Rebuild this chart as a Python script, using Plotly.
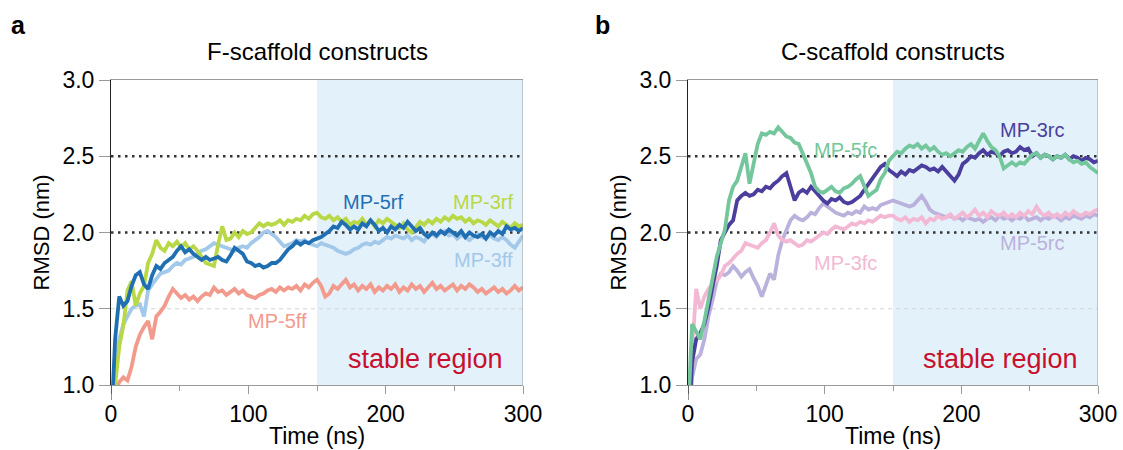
import plotly.graph_objects as go

# ---------------- data ----------------
TIME = list(range(0, 301, 3))  # ns

# Panel a: F-scaffold constructs
MP_5ff = [0.60, 0.95, 1.02, 1.05, 1.03, 1.12, 1.25, 1.33, 1.38, 1.42,
          1.30, 1.45, 1.48, 1.52, 1.58, 1.63, 1.60, 1.57, 1.59, 1.56,
          1.58, 1.55, 1.58, 1.60, 1.59, 1.64, 1.61, 1.62, 1.59, 1.61,
          1.63, 1.60, 1.62, 1.59, 1.58, 1.57, 1.59, 1.60, 1.62, 1.63,
          1.61, 1.64, 1.62, 1.64, 1.63, 1.65, 1.62, 1.66, 1.64, 1.67,
          1.69, 1.65, 1.58, 1.60, 1.65, 1.63, 1.66, 1.69, 1.64, 1.66,
          1.62, 1.65, 1.63, 1.66, 1.61, 1.64, 1.62, 1.65, 1.63, 1.66,
          1.61, 1.64, 1.62, 1.66, 1.63, 1.65, 1.61, 1.64, 1.67, 1.63,
          1.65, 1.62, 1.64, 1.66, 1.62, 1.65, 1.63, 1.66, 1.64, 1.61,
          1.63, 1.60, 1.62, 1.64, 1.61, 1.63, 1.60, 1.62, 1.65, 1.62,
          1.64]
MP_3rf = [0.55, 1.00, 1.25, 1.39, 1.62, 1.68, 1.52, 1.60, 1.65, 1.80,
          1.86, 1.95, 1.90, 1.88, 1.93, 1.91, 1.94, 1.90, 1.93, 1.89,
          1.91, 1.88, 1.84, 1.80, 1.79, 1.78, 1.92, 2.04, 1.95, 1.96,
          2.00, 1.97, 2.01, 1.99, 2.00, 2.03, 2.06, 2.04, 2.06, 2.05,
          2.06, 2.08, 2.05, 2.08, 2.07, 2.09, 2.08, 2.11, 2.09, 2.12,
          2.13, 2.10, 2.09, 2.11, 2.08, 2.10, 2.07, 2.09, 2.05, 2.07,
          2.06, 2.09, 2.05, 2.08, 2.04, 2.08, 2.06, 2.09, 2.07, 2.05,
          2.03, 2.06, 2.02, 2.00, 2.04, 2.07, 2.05, 2.08, 2.06, 2.09,
          2.07, 2.10, 2.08, 2.11, 2.09, 2.10, 2.07, 2.09, 2.06, 2.08,
          2.07, 2.05, 2.08, 2.06, 2.04, 2.07, 2.05, 2.03, 2.06, 2.04,
          2.05]
MP_5rf = [0.70, 1.30, 1.58, 1.52, 1.55, 1.65, 1.72, 1.74, 1.66, 1.63,
          1.72, 1.78, 1.76, 1.80, 1.82, 1.84, 1.88, 1.91, 1.87, 1.89,
          1.86, 1.84, 1.82, 1.84, 1.82, 1.83, 1.84, 1.82, 1.81, 1.85,
          1.90, 1.88, 1.86, 1.81, 1.80, 1.78, 1.79, 1.77, 1.78, 1.80,
          1.80, 1.82, 1.86, 1.89, 1.91, 1.94, 1.92, 1.94, 1.93, 1.95,
          1.96, 1.97, 1.99, 2.01, 2.04, 2.03, 2.07, 2.05, 2.02, 2.04,
          2.02, 2.06, 2.04, 2.08, 2.05, 2.01, 2.03, 2.00, 2.04, 2.02,
          2.05, 2.03, 2.07, 2.04, 2.01, 2.03, 1.99, 1.97, 2.00, 1.98,
          2.01, 1.99, 2.02, 2.00, 1.98, 2.01, 1.97, 2.00, 1.98, 1.97,
          1.99, 1.96, 2.00, 1.98, 2.01, 1.99, 2.04, 2.02, 2.03, 2.01,
          2.03]
MP_3ff = [0.60, 1.10, 1.30, 1.40, 1.45, 1.50, 1.52, 1.53, 1.45, 1.62,
          1.66, 1.70, 1.73, 1.74, 1.75, 1.78, 1.80, 1.79, 1.82, 1.83,
          1.84, 1.86, 1.88, 1.89, 1.91, 1.93, 1.92, 1.91, 1.90, 1.89,
          1.88, 1.90, 1.91, 1.90, 1.93, 1.95, 1.97, 2.00, 2.01, 1.99,
          1.97, 1.94, 1.91, 1.92, 1.93, 1.95, 1.94, 1.95, 1.93, 1.92,
          1.91, 1.93, 1.92, 1.91, 1.90, 1.88, 1.87, 1.86, 1.87, 1.89,
          1.90, 1.92, 1.93, 1.92, 1.94, 1.93, 1.95, 1.97, 1.96, 1.98,
          1.97, 1.96, 1.98, 1.95, 1.97, 1.96, 1.94, 1.98, 1.99, 1.97,
          2.00, 2.01, 1.98, 1.99, 1.96, 1.98, 1.97, 1.95, 1.97, 1.99,
          1.97, 1.96, 1.98, 1.96, 1.95, 1.97, 1.95, 1.92, 1.90, 1.94,
          1.98]

# Panel b: C-scaffold constructs
MP_5fc = [0.80, 1.40, 1.35, 1.30, 1.42, 1.56, 1.72, 1.84, 1.93, 2.02,
          2.21, 2.30, 2.34, 2.43, 2.52, 2.32, 2.45, 2.58, 2.65, 2.64,
          2.66, 2.65, 2.69, 2.66, 2.63, 2.62, 2.59, 2.58, 2.52, 2.45,
          2.39, 2.30, 2.27, 2.26, 2.28, 2.30, 2.27, 2.26, 2.29, 2.30,
          2.32, 2.35, 2.37, 2.30, 2.24, 2.26, 2.28, 2.35, 2.39, 2.47,
          2.50, 2.53, 2.52, 2.55, 2.57, 2.56, 2.58, 2.55, 2.57, 2.54,
          2.56, 2.53, 2.51, 2.52, 2.50, 2.52, 2.54, 2.53, 2.56, 2.58,
          2.55, 2.60, 2.65, 2.60, 2.56, 2.54, 2.50, 2.42, 2.44, 2.46,
          2.44, 2.46, 2.45, 2.48, 2.51, 2.52, 2.49, 2.51, 2.50, 2.48,
          2.50, 2.49, 2.51, 2.48, 2.46, 2.47, 2.45, 2.46, 2.43, 2.41,
          2.39]
MP_3rc = [0.60, 1.15, 1.30, 1.34, 1.40, 1.51, 1.65, 1.78, 1.95, 2.00,
          2.05, 2.08, 2.21, 2.24, 2.26, 2.24, 2.25, 2.28, 2.27, 2.30,
          2.29, 2.32, 2.34, 2.37, 2.39, 2.30, 2.21, 2.26, 2.28, 2.26,
          2.30, 2.27, 2.24, 2.21, 2.19, 2.22, 2.21, 2.23, 2.20, 2.19,
          2.20, 2.22, 2.24, 2.28, 2.32, 2.35, 2.39, 2.43, 2.45, 2.41,
          2.39, 2.37, 2.40, 2.38, 2.41, 2.40, 2.42, 2.44, 2.43, 2.41,
          2.42, 2.40, 2.43, 2.40, 2.37, 2.34, 2.38, 2.45, 2.47, 2.50,
          2.49, 2.52, 2.54, 2.51, 2.53, 2.52, 2.50, 2.53, 2.54, 2.52,
          2.53, 2.56, 2.54, 2.55, 2.50, 2.52, 2.49, 2.51, 2.50, 2.48,
          2.50, 2.49, 2.51, 2.48, 2.50, 2.49, 2.47, 2.49, 2.48, 2.46,
          2.47]
MP_3fc = [0.80, 1.25, 1.63, 1.50, 1.58, 1.63, 1.66, 1.69, 1.72, 1.78,
          1.80, 1.83, 1.86, 1.88, 1.93, 1.92, 1.91, 1.90, 1.93, 1.95,
          2.00, 2.06, 1.98, 1.95, 1.94, 1.95, 1.93, 1.91, 1.92, 1.95,
          1.94, 1.96, 1.98, 2.00, 1.99, 2.02, 2.04, 2.03, 2.02, 2.04,
          2.06, 2.05, 2.07, 2.06, 2.08, 2.07, 2.09, 2.11, 2.10, 2.11,
          2.11, 2.09, 2.08, 2.10, 2.07, 2.09, 2.08, 2.10, 2.06, 2.09,
          2.08, 2.11, 2.09, 2.10, 2.12, 2.09, 2.11, 2.13, 2.10, 2.12,
          2.15, 2.11, 2.13, 2.10, 2.14, 2.12, 2.11, 2.13, 2.10, 2.12,
          2.10, 2.13, 2.11, 2.14, 2.12, 2.17, 2.13, 2.11, 2.13, 2.10,
          2.12, 2.10, 2.13, 2.11, 2.14, 2.12, 2.11, 2.13, 2.12, 2.14,
          2.15]
MP_5rc = [0.60, 1.05, 1.17, 1.20, 1.30, 1.45, 1.56, 1.68, 1.73, 1.72,
          1.74, 1.78, 1.75, 1.71, 1.74, 1.76, 1.70, 1.65, 1.58, 1.66,
          1.73, 1.69, 1.85, 1.95, 2.02, 2.08, 2.11, 2.09, 2.08, 2.10,
          2.13, 2.12, 2.16, 2.19, 2.17, 2.15, 2.13, 2.12, 2.11, 2.13,
          2.12, 2.14, 2.13, 2.17, 2.15, 2.16, 2.15, 2.18, 2.19, 2.20,
          2.21, 2.20, 2.19, 2.18, 2.17, 2.18, 2.21, 2.24, 2.20, 2.15,
          2.13, 2.12, 2.11, 2.10, 2.11, 2.09, 2.10, 2.08, 2.10, 2.09,
          2.08, 2.09, 2.07, 2.09, 2.10, 2.08, 2.11, 2.09, 2.10, 2.08,
          2.10, 2.09, 2.11, 2.08, 2.09, 2.10, 2.08, 2.10, 2.09, 2.11,
          2.10, 2.08, 2.10, 2.09, 2.11, 2.10, 2.09, 2.11, 2.10, 2.12,
          2.11]

PANEL_A = [("MP-5ff", MP_5ff, "#f29a8c"), ("MP-3ff", MP_3ff, "#a2c8ea"),
           ("MP-3rf", MP_3rf, "#b9d845"), ("MP-5rf", MP_5rf, "#1f6fb2")]
PANEL_B = [("MP-5rc", MP_5rc, "#bab2dc"), ("MP-3fc", MP_3fc, "#f3b8d3"),
           ("MP-3rc", MP_3rc, "#4b3f9d"), ("MP-5fc", MP_5fc, "#74c79c")]

LABELS_A = [("MP-5rf", 191, 2.20, "#1f6fb2"), ("MP-3rf", 271, 2.20, "#b9d845"),
            ("MP-3ff", 271, 1.82, "#a2c8ea"), ("MP-5ff", 121, 1.42, "#f29a8c")]
LABELS_B = [("MP-5fc", 115, 2.54, "#74c79c"), ("MP-3rc", 252, 2.67, "#4b3f9d"),
            ("MP-5rc", 252, 1.93, "#bab2dc"), ("MP-3fc", 115, 1.80, "#f3b8d3")]

FONT = "Liberation Sans, Arial, Helvetica, sans-serif"
W, H = 1123, 450
Y_TOP, Y_BOT = 80, 385
DOM_A = (111 / W, 523 / W)
DOM_B = (688 / W, 1098 / W)
YDOM = (1 - Y_BOT / H, 1 - Y_TOP / H)

fig = go.Figure()

for name, vals, col in PANEL_A:
    fig.add_trace(go.Scatter(x=TIME, y=vals, mode="lines", name=name,
                             line=dict(color=col, width=3.8), xaxis="x", yaxis="y",
                             showlegend=False))
for name, vals, col in PANEL_B:
    fig.add_trace(go.Scatter(x=TIME, y=vals, mode="lines", name=name,
                             line=dict(color=col, width=3.8), xaxis="x2", yaxis="y2",
                             showlegend=False))

def xaxis_cfg(dom, anchor):
    return dict(domain=list(dom), anchor=anchor, range=[0, 300], automargin=False,
                tickvals=[0, 100, 200, 300], ticks="outside", ticklen=8,
                tickcolor="#9a9a9a", tickwidth=1,
                minor=dict(tickvals=[50, 150, 250], ticks="outside", ticklen=5,
                           tickcolor="#9a9a9a", tickwidth=1),
                showline=True, linecolor="#9a9a9a", linewidth=1, mirror=True,
                showgrid=False, zeroline=False,
                tickfont=dict(family=FONT, size=23, color="black"))

def yaxis_cfg(anchor):
    return dict(domain=list(YDOM), anchor=anchor, range=[1.0, 3.0], automargin=False,
                tickvals=[1.0, 1.5, 2.0, 2.5, 3.0], tickformat=".1f",
                ticks="outside", ticklen=11, tickcolor="#9a9a9a", tickwidth=1,
                showline=True, linecolor="#222222", linewidth=1,
                showgrid=False, zeroline=False,
                tickfont=dict(family=FONT, size=23, color="black"))

shapes = []
annotations = []
for xr, yr, dom, title, letter, letter_x, labels in [
        ("x", "y", DOM_A, "F-scaffold constructs", "a", 18, LABELS_A),
        ("x2", "y2", DOM_B, "C-scaffold constructs", "b", 602, LABELS_B)]:
    shapes.append(dict(type="rect", xref=xr, yref=yr, x0=150, x1=300, y0=1.0, y1=3.0,
                       fillcolor="#e3f1fa", line=dict(width=0), layer="below"))
    for lv in [2.0, 2.5]:
        shapes.append(dict(type="line", xref=xr, yref=yr, x0=0, x1=300, y0=lv, y1=lv,
                           line=dict(color="#333333", width=2.5, dash="2.5px,4.5px"),
                           layer="below"))
    shapes.append(dict(type="line", xref=xr, yref=yr, x0=0, x1=300, y0=1.5, y1=1.5,
                       line=dict(color="#d4d4d4", width=1, dash="4px,4px"), layer="below"))
    # right frame edge (gray)
    shapes.append(dict(type="line", xref=xr, yref=yr, x0=300, x1=300, y0=1.0, y1=3.0,
                       line=dict(color="#9a9a9a", width=1)))
    # left spine extending below the x axis
    shapes.append(dict(type="line", xref=xr, yref="paper", x0=0, x1=0,
                       y0=YDOM[0] - 15 / H, y1=YDOM[0],
                       line=dict(color="#222222", width=1)))
    cx = (dom[0] + dom[1]) / 2
    annotations.append(dict(text=title, xref="paper", yref="paper", x=cx, y=1 - 52 / H,
                            xanchor="center", yanchor="middle", showarrow=False,
                            font=dict(family=FONT, size=24, color="black")))
    annotations.append(dict(text="<b>" + letter + "</b>", xref="paper", yref="paper",
                            x=letter_x / W, y=1 - 25 / H, xanchor="center", yanchor="middle",
                            showarrow=False, font=dict(family=FONT, size=25, color="black")))
    annotations.append(dict(text="Time (ns)", xref="paper", yref="paper", x=cx,
                            y=1 - 436 / H, xanchor="center", yanchor="middle",
                            showarrow=False, font=dict(family=FONT, size=23, color="black")))
    annotations.append(dict(text="RMSD (nm)", xref="paper", yref="paper",
                            x=dom[0] - 70 / W, y=(YDOM[0] + YDOM[1]) / 2, textangle=-90,
                            xanchor="center", yanchor="middle",
                            showarrow=False, font=dict(family=FONT, size=22, color="black")))
    annotations.append(dict(text="stable region", xref=xr, yref=yr, x=229, y=1.17,
                            xanchor="center", yanchor="middle",
                            showarrow=False, font=dict(family=FONT, size=27, color="#c8102e")))
    for txt, lx, ly, col in labels:
        annotations.append(dict(text=txt, xref=xr, yref=yr, x=lx, y=ly, showarrow=False,
                                xanchor="center", yanchor="middle",
                                font=dict(family=FONT, size=20, color=col)))

fig.update_layout(
    width=W, height=H,
    margin=dict(l=0, r=0, t=0, b=0, pad=0, autoexpand=False),
    paper_bgcolor="white", plot_bgcolor="white",
    xaxis=xaxis_cfg(DOM_A, "y"), yaxis=yaxis_cfg("x"),
    xaxis2=xaxis_cfg(DOM_B, "y2"), yaxis2=yaxis_cfg("x2"),
    shapes=shapes, annotations=annotations,
    font=dict(family=FONT),
)

fig.write_html("out.html")
